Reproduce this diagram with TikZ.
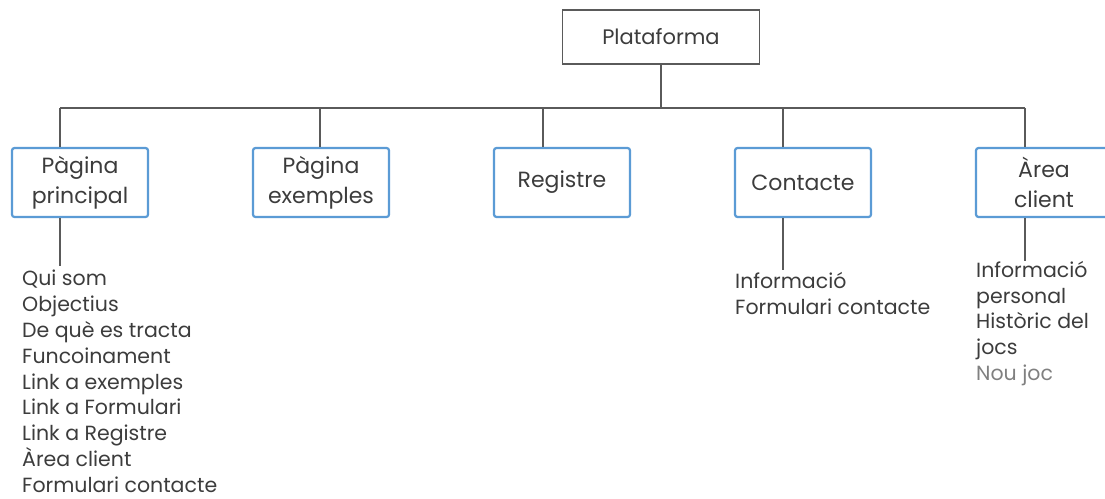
\documentclass[tikz,border=0pt]{standalone}
\usepackage{fontspec}
\setmainfont{Poppins}
\usepackage{tikz}

\definecolor{boxblue}{HTML}{5B9BD5}
\definecolor{linegray}{HTML}{5A5A5A}
\definecolor{txtgray}{HTML}{3C3C3C}

\begin{document}
\begin{tikzpicture}[x=1pt,y=-1pt,
  box/.style={draw=boxblue,line width=2.2pt,rounded corners=2.5pt,minimum width=136pt,minimum height=69pt,inner sep=0,align=center,text=txtgray,font=\fontsize{22}{30}\selectfont},
  list/.style={anchor=north west,inner sep=0,align=left,text=txtgray,font=\fontsize{20.5}{25.8}\selectfont},
  conn/.style={draw=linegray,line width=2.2pt}]
\useasboundingbox (0,0) rectangle (1105,498);
\clip (0,0) rectangle (1105,498);
\node [draw=linegray,line width=1.8pt,minimum width=197pt,minimum height=54pt,text=txtgray,font=\fontsize{21}{30}\selectfont] (p) at (661,37) {Plataforma};
\node [box] (pp) at (80,182.5) {Pàgina\\principal};
\node [box] (pe) at (321,182.5) {Pàgina\\exemples};
\node [box] (reg) at (562,182.5) {Registre};
\node [box] (con) at (803,182.5) {Contacte};
\node [box] (ac) at (1044,182.5) {Àrea\\client};
% branch points on the bar
\coordinate (ba) at (60,108);
\coordinate (bb) at (320,108);
\coordinate (bc) at (543,108);
\coordinate (bd) at (783,108);
\coordinate (be) at (1025,108);
\draw [conn] (p.south) -- (p.south |- ba);
\draw [conn] (ba) -- (be);
\foreach \c/\n in {ba/pp,bb/pe,bc/reg,bd/con,be/ac}
  \draw [conn] (\c) -- (\c |- \n.north);
% lists
\node [list] (ppl) at (22,270) {Qui som\\Objectius\\De què es tracta\\Funcoinament\\Link a exemples\\Link a Formulari\\Link a Registre\\Àrea client\\Formulari contacte};
\node [list] (conl) at (735,272) {Informació\\Formulari contacte};
\node [list] (acl) at (976,261) {Informació\\personal\\Històric del\\jocs\\\textcolor{gray}{Nou joc}};
\draw [conn] (ba |- pp.south) -- ([yshift=4pt]ba |- ppl.north);
\draw [conn] (bd |- con.south) -- ([yshift=2pt]bd |- conl.north);
\draw [conn] (be |- ac.south) -- (be |- acl.north);
\end{tikzpicture}
\end{document}
